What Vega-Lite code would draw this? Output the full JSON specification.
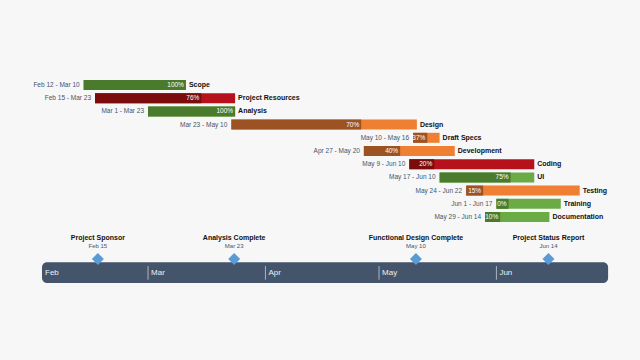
{
  "$schema": "https://vega.github.io/schema/vega-lite/v6.json",
  "width": 568,
  "height": 264,
  "autosize": {"type": "none"},
  "padding": {"left": 42, "top": 71.8, "right": 30, "bottom": 24.2},
  "background": "#f7f7f7",
  "config": {"view": {"stroke": null}, "font": "Liberation Sans", "text": {"font": "Liberation Sans"}},
  "datasets": {
    "tasks": [
      {"row": 1, "task": "Scope", "range": "Feb 12 - Mar 10", "start": "2023-02-12T00:00Z", "end": "2023-03-11T00:00Z", "done": "2023-03-11T00:00Z", "pct": "100%", "kind": "green"},
      {"row": 2, "task": "Project Resources", "range": "Feb 15 - Mar 23", "start": "2023-02-15T00:00Z", "end": "2023-03-24T00:00Z", "done": "2023-03-15T02:00Z", "pct": "76%", "kind": "red"},
      {"row": 3, "task": "Analysis", "range": "Mar 1 - Mar 23", "start": "2023-03-01T00:00Z", "end": "2023-03-24T00:00Z", "done": "2023-03-24T00:00Z", "pct": "100%", "kind": "green"},
      {"row": 4, "task": "Design", "range": "Mar 23 - May 10", "start": "2023-03-23T00:00Z", "end": "2023-05-11T00:00Z", "done": "2023-04-26T07:00Z", "pct": "70%", "kind": "orange"},
      {"row": 5, "task": "Draft Specs", "range": "May 10 - May 16", "start": "2023-05-10T00:00Z", "end": "2023-05-17T00:00Z", "done": "2023-05-13T18:00Z", "pct": "37%", "kind": "orange"},
      {"row": 6, "task": "Development", "range": "Apr 27 - May 20", "start": "2023-04-27T00:00Z", "end": "2023-05-21T00:00Z", "done": "2023-05-06T14:00Z", "pct": "40%", "kind": "orange"},
      {"row": 7, "task": "Coding", "range": "May 9 - Jun 10", "start": "2023-05-09T00:00Z", "end": "2023-06-11T00:00Z", "done": "2023-05-15T14:00Z", "pct": "20%", "kind": "red"},
      {"row": 8, "task": "UI", "range": "May 17 - Jun 10", "start": "2023-05-17T00:00Z", "end": "2023-06-11T00:00Z", "done": "2023-06-04T18:00Z", "pct": "75%", "kind": "green"},
      {"row": 9, "task": "Testing", "range": "May 24 - Jun 22", "start": "2023-05-24T00:00Z", "end": "2023-06-23T00:00Z", "done": "2023-05-28T12:00Z", "pct": "15%", "kind": "orange"},
      {"row": 10, "task": "Training", "range": "Jun 1 - Jun 17", "start": "2023-06-01T00:00Z", "end": "2023-06-18T00:00Z", "done": "2023-06-04T05:00Z", "pct": "0%", "kind": "green"},
      {"row": 11, "task": "Documentation", "range": "May 29 - Jun 14", "start": "2023-05-29T00:00Z", "end": "2023-06-15T00:00Z", "done": "2023-06-02T00:00Z", "pct": "10%", "kind": "green"}
    ],
    "milestones": [
      {"name": "Project Sponsor", "label": "Feb 15", "at": "2023-02-15T18:00Z"},
      {"name": "Analysis Complete", "label": "Mar 23", "at": "2023-03-23T18:00Z"},
      {"name": "Functional Design Complete", "label": "May 10", "at": "2023-05-10T18:00Z"},
      {"name": "Project Status Report", "label": "Jun 14", "at": "2023-06-14T18:00Z"}
    ],
    "months": [
      {"month": "Feb", "at": "2023-02-01T00:00Z"},
      {"month": "Mar", "at": "2023-03-01T00:00Z"},
      {"month": "Apr", "at": "2023-04-01T00:00Z"},
      {"month": "May", "at": "2023-05-01T00:00Z"},
      {"month": "Jun", "at": "2023-06-01T00:00Z"}
    ],
    "span": [
      {"from": "2023-02-01T00:00Z", "to": "2023-06-30T12:00Z"}
    ]
  },
  "resolve": {"scale": {"color": "independent"}},
  "layer": [
    {
      "data": {"name": "tasks"},
      "mark": {"type": "rule", "strokeWidth": 10, "strokeCap": "butt"},
      "encoding": {
        "x": {"field": "start", "type": "temporal", "axis": null, "scale": {"domain": [{"year": 2023, "month": 2, "date": 1, "utc": true}, {"year": 2023, "month": 7, "date": 1, "utc": true}], "nice": false}},
        "x2": {"field": "end"},
        "y": {"field": "row", "type": "quantitative", "axis": null, "scale": {"domain": [0, 20], "reverse": true, "nice": false, "zero": false, "padding": 0}},
        "color": {"field": "kind", "type": "nominal", "legend": null, "scale": {"domain": ["green", "red", "orange"], "range": ["#6aab45", "#b5121b", "#ee7f33"]}}
      }
    },
    {
      "data": {"name": "tasks"},
      "mark": {"type": "rule", "strokeWidth": 10, "strokeCap": "butt"},
      "encoding": {
        "x": {"field": "start", "type": "temporal", "axis": null, "scale": {"domain": [{"year": 2023, "month": 2, "date": 1, "utc": true}, {"year": 2023, "month": 7, "date": 1, "utc": true}], "nice": false}},
        "x2": {"field": "done"},
        "y": {"field": "row", "type": "quantitative", "axis": null, "scale": {"domain": [0, 20], "reverse": true, "nice": false, "zero": false, "padding": 0}},
        "color": {"field": "kind", "type": "nominal", "legend": null, "scale": {"domain": ["green", "red", "orange"], "range": ["#4a7a2c", "#7a0c0c", "#9c5222"]}}
      }
    },
    {
      "data": {"name": "tasks"},
      "mark": {"type": "text", "align": "right", "baseline": "middle", "dx": -2, "fontSize": 6.5, "color": "#ffffff"},
      "encoding": {
        "x": {"field": "done", "type": "temporal", "axis": null, "scale": {"domain": [{"year": 2023, "month": 2, "date": 1, "utc": true}, {"year": 2023, "month": 7, "date": 1, "utc": true}], "nice": false}},
        "y": {"field": "row", "type": "quantitative", "axis": null, "scale": {"domain": [0, 20], "reverse": true, "nice": false, "zero": false, "padding": 0}},
        "text": {"field": "pct"}
      }
    },
    {
      "data": {"name": "tasks"},
      "mark": {"type": "text", "align": "right", "baseline": "middle", "dx": -4, "fontSize": 6.5, "color": "#44546a"},
      "encoding": {
        "x": {"field": "start", "type": "temporal", "axis": null, "scale": {"domain": [{"year": 2023, "month": 2, "date": 1, "utc": true}, {"year": 2023, "month": 7, "date": 1, "utc": true}], "nice": false}},
        "y": {"field": "row", "type": "quantitative", "axis": null, "scale": {"domain": [0, 20], "reverse": true, "nice": false, "zero": false, "padding": 0}},
        "text": {"field": "range"}
      }
    },
    {
      "data": {"name": "tasks"},
      "mark": {"type": "text", "align": "left", "baseline": "middle", "dx": 3, "fontSize": 7, "fontWeight": "bold", "color": "#111111"},
      "encoding": {
        "x": {"field": "end", "type": "temporal", "axis": null, "scale": {"domain": [{"year": 2023, "month": 2, "date": 1, "utc": true}, {"year": 2023, "month": 7, "date": 1, "utc": true}], "nice": false}},
        "y": {"field": "row", "type": "quantitative", "axis": null, "scale": {"domain": [0, 20], "reverse": true, "nice": false, "zero": false, "padding": 0}},
        "text": {"field": "task"}
      }
    },
    {
      "data": {"name": "span"},
      "mark": {"type": "rect", "cornerRadius": 5, "color": "#44546a"},
      "encoding": {
        "x": {"field": "from", "type": "temporal", "axis": null, "scale": {"domain": [{"year": 2023, "month": 2, "date": 1, "utc": true}, {"year": 2023, "month": 7, "date": 1, "utc": true}], "nice": false}},
        "x2": {"field": "to"},
        "y": {"datum": 14.42, "type": "quantitative", "axis": null, "scale": {"domain": [0, 20], "reverse": true, "nice": false, "zero": false, "padding": 0}},
        "y2": {"datum": 16.0}
      }
    },
    {
      "data": {"name": "months"},
      "transform": [{"filter": "datum.month !== 'Feb'"}],
      "mark": {"type": "rule", "color": "#c9ced6", "strokeWidth": 0.8},
      "encoding": {
        "x": {"field": "at", "type": "temporal", "axis": null, "scale": {"domain": [{"year": 2023, "month": 2, "date": 1, "utc": true}, {"year": 2023, "month": 7, "date": 1, "utc": true}], "nice": false}},
        "y": {"datum": 14.72, "type": "quantitative", "axis": null, "scale": {"domain": [0, 20], "reverse": true, "nice": false, "zero": false, "padding": 0}},
        "y2": {"datum": 15.75}
      }
    },
    {
      "data": {"name": "months"},
      "mark": {"type": "text", "align": "left", "baseline": "middle", "dx": 3, "fontSize": 8, "color": "#eef0f3"},
      "encoding": {
        "x": {"field": "at", "type": "temporal", "axis": null, "scale": {"domain": [{"year": 2023, "month": 2, "date": 1, "utc": true}, {"year": 2023, "month": 7, "date": 1, "utc": true}], "nice": false}},
        "y": {"datum": 15.22, "type": "quantitative", "axis": null, "scale": {"domain": [0, 20], "reverse": true, "nice": false, "zero": false, "padding": 0}},
        "text": {"field": "month"}
      }
    },
    {
      "data": {"name": "milestones"},
      "mark": {"type": "point", "shape": "diamond", "filled": true, "size": 144, "color": "#5b9bd5", "opacity": 1},
      "encoding": {
        "x": {"field": "at", "type": "temporal", "axis": null, "scale": {"domain": [{"year": 2023, "month": 2, "date": 1, "utc": true}, {"year": 2023, "month": 7, "date": 1, "utc": true}], "nice": false}},
        "y": {"datum": 14.18, "type": "quantitative", "axis": null, "scale": {"domain": [0, 20], "reverse": true, "nice": false, "zero": false, "padding": 0}}
      }
    },
    {
      "data": {"name": "milestones"},
      "mark": {"type": "text", "align": "center", "baseline": "middle", "fontSize": 7, "fontWeight": "bold", "color": "#111111"},
      "encoding": {
        "x": {"field": "at", "type": "temporal", "axis": null, "scale": {"domain": [{"year": 2023, "month": 2, "date": 1, "utc": true}, {"year": 2023, "month": 7, "date": 1, "utc": true}], "nice": false}},
        "y": {"datum": 12.59, "type": "quantitative", "axis": null, "scale": {"domain": [0, 20], "reverse": true, "nice": false, "zero": false, "padding": 0}},
        "text": {"field": "name"}
      }
    },
    {
      "data": {"name": "milestones"},
      "mark": {"type": "text", "align": "center", "baseline": "middle", "fontSize": 6, "color": "#44546a"},
      "encoding": {
        "x": {"field": "at", "type": "temporal", "axis": null, "scale": {"domain": [{"year": 2023, "month": 2, "date": 1, "utc": true}, {"year": 2023, "month": 7, "date": 1, "utc": true}], "nice": false}},
        "y": {"datum": 13.16, "type": "quantitative", "axis": null, "scale": {"domain": [0, 20], "reverse": true, "nice": false, "zero": false, "padding": 0}},
        "text": {"field": "label"}
      }
    }
  ]
}
